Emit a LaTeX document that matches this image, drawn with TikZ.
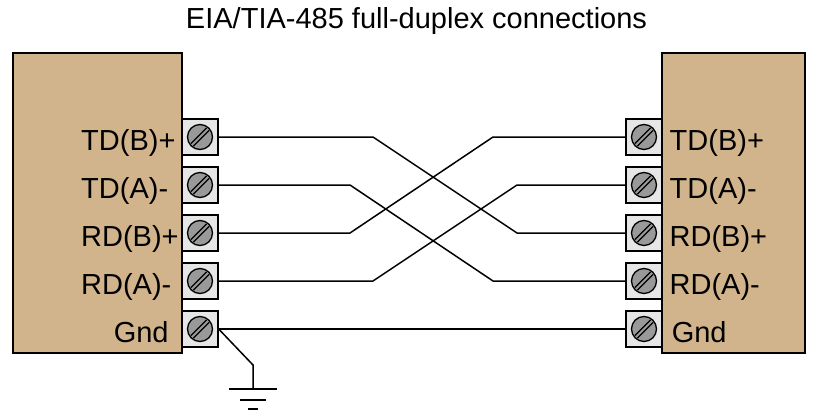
\documentclass[tikz,border=0pt]{standalone}
\usepackage{fontspec}
\setmainfont{Liberation Sans}
\definecolor{devtan}{RGB}{210,180,140}
\definecolor{termgray}{RGB}{230,230,230}
\definecolor{screwgray}{RGB}{153,153,153}
\tikzset{
  device/.style={draw, fill=devtan, line width=1.6pt, inner sep=0pt},
  term/.style={draw, fill=termgray, line width=1.3pt, minimum size=36pt, inner sep=0pt,
    path picture={
      \path (path picture bounding box.center) coordinate (sc);
      \draw[shift={(sc)}, fill=screwgray, line width=1.3pt] (0,0) circle (12.5pt);
      \draw[shift={(sc)}, line width=1.3pt] (9.05,-6.51) -- (-6.51,9.05);
      \draw[shift={(sc)}, line width=1.3pt] (6.51,-9.05) -- (-9.05,6.51);
    }},
  lab/.style={inner sep=0pt, font=\fontsize{29}{34}\selectfont},
  wire/.style={line width=1.5pt, line join=miter},
}
\begin{document}
\begin{tikzpicture}[x=1pt, y=-1pt]
\useasboundingbox (0,0) rectangle (817,412);
\node[lab, anchor=base] (title) at (416.5,29) {EIA/TIA-485 full-duplex connections};
% devices
\node[device, minimum width=169pt, minimum height=300pt] (devL) at (97.5,203) {};
\node[device, minimum width=143pt, minimum height=300pt] (devR) at (733.5,203) {};
% terminals
\foreach \i/\y in {1/137,2/185,3/233,4/281,5/329}{
  \node[term] (L\i) at (200,\y) {};
  \node[term] (R\i) at (644,\y) {};
}
% labels
\node[lab, anchor=base west] (lL1) at (81,150) {TD(B)+};
\node[lab, anchor=base west] (lL2) at (81,198) {TD(A)-};
\node[lab, anchor=base west] (lL3) at (81,246) {RD(B)+};
\node[lab, anchor=base west] (lL4) at (81,294) {RD(A)-};
\node[lab, anchor=base west] (lL5) at (113.6,342) {Gnd};
\node[lab, anchor=base west] (lR1) at (669.5,150) {TD(B)+};
\node[lab, anchor=base west] (lR2) at (669.5,198) {TD(A)-};
\node[lab, anchor=base west] (lR3) at (669.5,246) {RD(B)+};
\node[lab, anchor=base west] (lR4) at (669.5,294) {RD(A)-};
\node[lab, anchor=base west] (lR5) at (671.6,342) {Gnd};
% wires
\draw[wire] (L1.east) -- (373,137) -- (517,233) -- (R3.west);
\draw[wire] (L2.east) -- (350,185) -- (493,281) -- (R4.west);
\draw[wire] (L3.east) -- (350,233) -- (493,137) -- (R1.west);
\draw[wire] (L4.east) -- (373,281) -- (517,185) -- (R2.west);
\draw[wire] (L5.east) -- (R5.west);
% ground
\coordinate (gnd) at (253,389);
\draw[wire] (L5.east) -- (253,365) -- (gnd);
\draw[wire] ([xshift=-24pt]gnd) -- ([xshift=24pt]gnd);
\draw[wire] ([xshift=-13pt,yshift=-11pt]gnd) -- ([xshift=13pt,yshift=-11pt]gnd);
\draw[wire] ([xshift=-5pt,yshift=-20pt]gnd) -- ([xshift=5pt,yshift=-20pt]gnd);
\end{tikzpicture}
\end{document}
